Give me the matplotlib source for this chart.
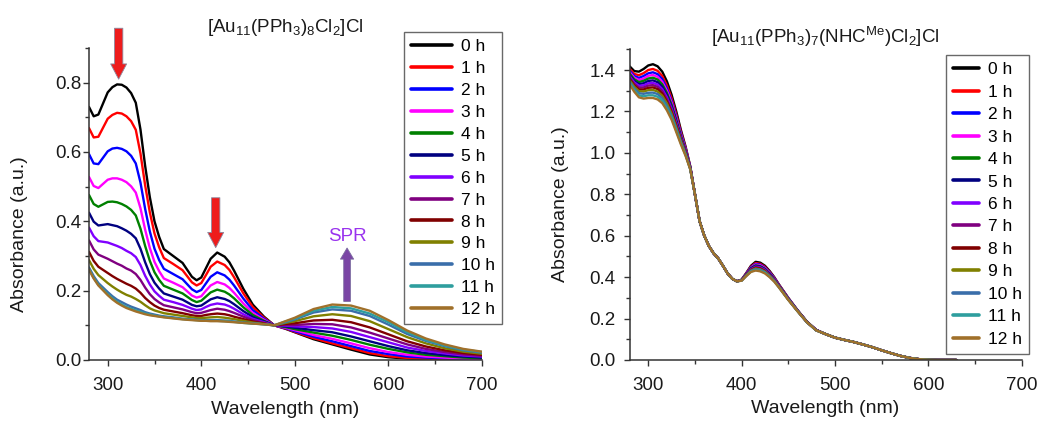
import matplotlib
matplotlib.use("Agg")
import matplotlib.pyplot as plt
from matplotlib.patches import FancyArrowPatch
from matplotlib.ticker import MultipleLocator

plt.rcParams['font.family'] = ['Liberation Sans', 'DejaVu Sans']
plt.rcParams['mathtext.fontset'] = 'custom'
plt.rcParams['mathtext.rm'] = 'Liberation Sans'
plt.rcParams['mathtext.it'] = 'Liberation Sans:italic'
plt.rcParams['mathtext.default'] = 'regular'

labels = ["0 h", "1 h", "2 h", "3 h", "4 h", "5 h", "6 h", "7 h", "8 h", "9 h", "10 h", "11 h", "12 h"]
colors = ["#000000", "#ff0000", "#0000ff", "#ff00ff", "#008000", "#000080", "#8000ff",
          "#800080", "#800000", "#808000", "#3a6eaa", "#2e9e9e", "#a0702a"]

# ---------------- Left panel: [Au11(PPh3)8Cl2]Cl ----------------
left_wl_uv = [280, 285, 290, 300, 305, 310, 315, 320, 325, 330, 335, 340, 345, 350, 355, 360,
              370, 380, 390, 395, 400, 405, 410, 417, 425, 430, 435, 445, 455, 467, 478]
left_uv = [
    [0.730, 0.703, 0.708, 0.772, 0.787, 0.795, 0.794, 0.786, 0.770, 0.742, 0.665, 0.560, 0.470, 0.400, 0.355, 0.320, 0.300, 0.280, 0.240, 0.230, 0.238, 0.265, 0.292, 0.310, 0.298, 0.282, 0.258, 0.205, 0.160, 0.125, 0.100],
    [0.669, 0.642, 0.644, 0.696, 0.707, 0.713, 0.711, 0.703, 0.689, 0.664, 0.596, 0.504, 0.426, 0.365, 0.325, 0.294, 0.277, 0.259, 0.224, 0.215, 0.222, 0.245, 0.269, 0.284, 0.274, 0.260, 0.239, 0.192, 0.153, 0.122, 0.100],
    [0.594, 0.567, 0.565, 0.602, 0.610, 0.612, 0.609, 0.602, 0.589, 0.567, 0.512, 0.436, 0.371, 0.321, 0.288, 0.263, 0.248, 0.233, 0.204, 0.196, 0.202, 0.221, 0.240, 0.253, 0.244, 0.232, 0.215, 0.177, 0.144, 0.119, 0.100],
    [0.528, 0.502, 0.496, 0.520, 0.524, 0.524, 0.520, 0.513, 0.501, 0.483, 0.438, 0.376, 0.323, 0.283, 0.256, 0.235, 0.223, 0.210, 0.186, 0.180, 0.184, 0.200, 0.215, 0.225, 0.218, 0.208, 0.194, 0.163, 0.136, 0.116, 0.100],
    [0.476, 0.450, 0.442, 0.456, 0.457, 0.455, 0.450, 0.443, 0.433, 0.417, 0.379, 0.329, 0.286, 0.253, 0.231, 0.214, 0.203, 0.192, 0.173, 0.167, 0.171, 0.183, 0.195, 0.203, 0.197, 0.189, 0.178, 0.152, 0.130, 0.113, 0.100],
    [0.425, 0.399, 0.388, 0.392, 0.389, 0.386, 0.380, 0.373, 0.364, 0.351, 0.321, 0.282, 0.248, 0.223, 0.206, 0.192, 0.183, 0.174, 0.159, 0.155, 0.157, 0.166, 0.175, 0.181, 0.176, 0.170, 0.161, 0.141, 0.124, 0.111, 0.100],
    [0.382, 0.357, 0.343, 0.339, 0.334, 0.329, 0.323, 0.315, 0.308, 0.297, 0.274, 0.243, 0.218, 0.198, 0.185, 0.174, 0.167, 0.159, 0.148, 0.144, 0.146, 0.153, 0.159, 0.163, 0.160, 0.155, 0.148, 0.132, 0.119, 0.109, 0.100],
    [0.345, 0.319, 0.304, 0.292, 0.285, 0.278, 0.272, 0.264, 0.258, 0.248, 0.231, 0.209, 0.190, 0.176, 0.166, 0.158, 0.152, 0.146, 0.138, 0.135, 0.136, 0.140, 0.144, 0.148, 0.145, 0.141, 0.136, 0.125, 0.115, 0.107, 0.100],
    [0.312, 0.286, 0.269, 0.251, 0.242, 0.234, 0.227, 0.220, 0.214, 0.206, 0.194, 0.179, 0.167, 0.157, 0.150, 0.145, 0.140, 0.135, 0.129, 0.127, 0.127, 0.130, 0.132, 0.134, 0.132, 0.129, 0.125, 0.118, 0.111, 0.105, 0.100],
    [0.288, 0.263, 0.245, 0.222, 0.212, 0.203, 0.195, 0.188, 0.183, 0.176, 0.168, 0.158, 0.149, 0.143, 0.139, 0.135, 0.131, 0.127, 0.123, 0.121, 0.121, 0.122, 0.123, 0.124, 0.122, 0.120, 0.118, 0.113, 0.108, 0.104, 0.100],
    [0.267, 0.242, 0.222, 0.196, 0.184, 0.174, 0.167, 0.160, 0.154, 0.149, 0.144, 0.138, 0.134, 0.131, 0.128, 0.126, 0.123, 0.119, 0.117, 0.116, 0.115, 0.115, 0.115, 0.115, 0.114, 0.113, 0.111, 0.108, 0.106, 0.103, 0.100],
    [0.262, 0.237, 0.217, 0.190, 0.178, 0.168, 0.160, 0.153, 0.148, 0.143, 0.139, 0.134, 0.131, 0.128, 0.126, 0.124, 0.121, 0.118, 0.116, 0.115, 0.114, 0.114, 0.113, 0.113, 0.112, 0.111, 0.110, 0.107, 0.105, 0.103, 0.100],
    [0.260, 0.235, 0.215, 0.187, 0.175, 0.165, 0.157, 0.150, 0.145, 0.140, 0.136, 0.132, 0.129, 0.127, 0.125, 0.123, 0.120, 0.117, 0.115, 0.114, 0.113, 0.113, 0.112, 0.112, 0.111, 0.110, 0.109, 0.107, 0.105, 0.103, 0.100],
]
left_wl_vis = [490, 500, 520, 540, 560, 580, 600, 620, 640, 660, 680, 700]
left_vis = [
    [0.090, 0.080, 0.060, 0.045, 0.030, 0.016, 0.008, 0.004, 0.002, 0.001, 0.000, 0.000],
    [0.091, 0.081, 0.063, 0.048, 0.034, 0.020, 0.011, 0.006, 0.004, 0.002, 0.001, 0.001],
    [0.092, 0.083, 0.067, 0.054, 0.040, 0.026, 0.017, 0.010, 0.007, 0.005, 0.003, 0.002],
    [0.093, 0.086, 0.072, 0.061, 0.048, 0.034, 0.023, 0.015, 0.010, 0.007, 0.004, 0.003],
    [0.095, 0.089, 0.079, 0.070, 0.058, 0.044, 0.032, 0.022, 0.015, 0.011, 0.007, 0.005],
    [0.097, 0.093, 0.086, 0.080, 0.068, 0.054, 0.040, 0.028, 0.020, 0.014, 0.010, 0.007],
    [0.099, 0.097, 0.095, 0.091, 0.081, 0.066, 0.051, 0.036, 0.026, 0.019, 0.013, 0.010],
    [0.101, 0.101, 0.104, 0.103, 0.094, 0.079, 0.062, 0.045, 0.032, 0.023, 0.016, 0.012],
    [0.104, 0.106, 0.114, 0.116, 0.109, 0.094, 0.074, 0.054, 0.039, 0.028, 0.020, 0.015],
    [0.107, 0.112, 0.126, 0.132, 0.127, 0.112, 0.089, 0.066, 0.048, 0.034, 0.024, 0.018],
    [0.109, 0.117, 0.137, 0.146, 0.142, 0.127, 0.102, 0.075, 0.055, 0.040, 0.028, 0.021],
    [0.111, 0.119, 0.142, 0.153, 0.149, 0.134, 0.109, 0.080, 0.058, 0.042, 0.030, 0.023],
    [0.112, 0.122, 0.147, 0.160, 0.157, 0.142, 0.115, 0.085, 0.062, 0.045, 0.032, 0.024],
]

# ---------------- Right panel: [Au11(PPh3)7(NHC^Me)Cl2]Cl ----------------
right_wl_a = [280, 285, 290, 295, 300, 305, 310, 315, 320, 325, 330, 335, 340, 345]
right_a = [
    [1.418, 1.395, 1.392, 1.405, 1.422, 1.428, 1.418, 1.392, 1.345, 1.280, 1.200, 1.110, 1.030, 0.935],
    [1.406, 1.381, 1.375, 1.385, 1.400, 1.405, 1.396, 1.371, 1.325, 1.263, 1.186, 1.100, 1.024, 0.933],
    [1.397, 1.371, 1.362, 1.371, 1.384, 1.389, 1.380, 1.356, 1.311, 1.251, 1.176, 1.093, 1.019, 0.931],
    [1.390, 1.363, 1.352, 1.359, 1.372, 1.376, 1.367, 1.343, 1.300, 1.242, 1.168, 1.088, 1.016, 0.930],
    [1.383, 1.355, 1.342, 1.348, 1.359, 1.363, 1.354, 1.331, 1.289, 1.232, 1.160, 1.082, 1.012, 0.929],
    [1.376, 1.347, 1.332, 1.336, 1.347, 1.350, 1.341, 1.319, 1.278, 1.222, 1.152, 1.076, 1.008, 0.928],
    [1.370, 1.340, 1.324, 1.326, 1.336, 1.338, 1.330, 1.308, 1.268, 1.214, 1.145, 1.071, 1.005, 0.927],
    [1.363, 1.333, 1.315, 1.316, 1.325, 1.327, 1.319, 1.298, 1.258, 1.206, 1.138, 1.067, 1.002, 0.926],
    [1.357, 1.326, 1.306, 1.306, 1.314, 1.316, 1.308, 1.287, 1.248, 1.197, 1.131, 1.062, 0.999, 0.925],
    [1.351, 1.319, 1.298, 1.296, 1.303, 1.304, 1.296, 1.276, 1.239, 1.189, 1.124, 1.057, 0.996, 0.924],
    [1.344, 1.311, 1.288, 1.285, 1.290, 1.291, 1.284, 1.264, 1.227, 1.179, 1.116, 1.051, 0.992, 0.922],
    [1.337, 1.303, 1.278, 1.273, 1.278, 1.278, 1.271, 1.252, 1.216, 1.170, 1.108, 1.046, 0.989, 0.921],
    [1.330, 1.295, 1.268, 1.262, 1.265, 1.265, 1.258, 1.240, 1.205, 1.160, 1.100, 1.040, 0.985, 0.920],
]
right_wl_b = [350, 355, 360, 365, 370, 375, 380, 385, 390, 395]
right_b = [0.800, 0.670, 0.600, 0.550, 0.515, 0.490, 0.455, 0.418, 0.392, 0.380]
right_wl_c = [400, 405, 410, 415, 420, 425, 430, 435, 440, 450, 460, 470, 480]
right_c = [
    [0.388, 0.420, 0.455, 0.474, 0.470, 0.455, 0.430, 0.400, 0.365, 0.300, 0.240, 0.185, 0.145],
    [0.387, 0.418, 0.451, 0.468, 0.464, 0.450, 0.426, 0.397, 0.363, 0.299, 0.239, 0.185, 0.145],
    [0.387, 0.416, 0.448, 0.464, 0.460, 0.446, 0.423, 0.395, 0.361, 0.298, 0.239, 0.184, 0.145],
    [0.386, 0.415, 0.445, 0.461, 0.457, 0.443, 0.420, 0.393, 0.360, 0.297, 0.238, 0.184, 0.144],
    [0.386, 0.414, 0.443, 0.457, 0.453, 0.440, 0.418, 0.391, 0.359, 0.296, 0.238, 0.184, 0.144],
    [0.386, 0.413, 0.441, 0.454, 0.450, 0.437, 0.416, 0.389, 0.358, 0.295, 0.238, 0.184, 0.144],
    [0.385, 0.412, 0.438, 0.451, 0.447, 0.435, 0.413, 0.388, 0.357, 0.294, 0.237, 0.183, 0.144],
    [0.385, 0.411, 0.436, 0.448, 0.444, 0.432, 0.411, 0.386, 0.356, 0.294, 0.237, 0.183, 0.144],
    [0.385, 0.410, 0.434, 0.445, 0.441, 0.429, 0.409, 0.385, 0.355, 0.293, 0.237, 0.183, 0.144],
    [0.384, 0.409, 0.432, 0.442, 0.438, 0.427, 0.407, 0.383, 0.354, 0.292, 0.236, 0.183, 0.143],
    [0.384, 0.407, 0.430, 0.439, 0.435, 0.424, 0.405, 0.382, 0.352, 0.292, 0.236, 0.182, 0.143],
    [0.383, 0.406, 0.427, 0.435, 0.431, 0.421, 0.402, 0.380, 0.351, 0.291, 0.235, 0.182, 0.143],
    [0.383, 0.405, 0.425, 0.432, 0.428, 0.418, 0.400, 0.378, 0.350, 0.290, 0.235, 0.182, 0.143],
]
right_wl_d = [490, 500, 510, 520, 530, 540, 550, 560, 570, 580, 590, 600, 610, 620, 630]
right_d = [0.125, 0.108, 0.097, 0.087, 0.075, 0.062, 0.047, 0.033, 0.020, 0.010, 0.004, 0.001, 0.000, 0.000, 0.000]

title_left = r"[Au$_{11}$(PPh$_{3}$)$_{8}$Cl$_{2}$]Cl"
title_right = r"[Au$_{11}$(PPh$_{3}$)$_{7}$(NHC$^{Me}$)Cl$_{2}$]Cl"

W, H = 1039, 421
fig = plt.figure(figsize=(W / 100, H / 100), dpi=100)
ax1 = fig.add_axes([89 / W, 1 - 360 / H, 393 / W, 312 / H])
ax2 = fig.add_axes([629.6 / W, 1 - 360 / H, 392 / W, 310.7 / H])

for k in range(13):
    x = left_wl_uv + left_wl_vis
    y = left_uv[k] + left_vis[k]
    ax1.plot(x, y, color=colors[k], lw=1.7, label=labels[k],
             solid_joinstyle='round', solid_capstyle='round')
    x2 = right_wl_a + right_wl_b + right_wl_c + right_wl_d
    y2 = right_a[k] + right_b + right_c[k] + right_d
    ax2.plot(x2, y2, color=colors[k], lw=1.7, label=labels[k],
             solid_joinstyle='round', solid_capstyle='round')

txt_col = '#1a1a1a'
spine_col = "#333333"
for ax in (ax1, ax2):
    ax.set_xlim(280, 700)
    ax.spines['top'].set_visible(False)
    ax.spines['right'].set_visible(False)
    for s in ('left', 'bottom'):
        ax.spines[s].set_linewidth(1.1)
        ax.spines[s].set_color(spine_col)
    ax.xaxis.set_major_locator(MultipleLocator(100))
    ax.xaxis.set_minor_locator(MultipleLocator(50))
    ax.yaxis.set_minor_locator(MultipleLocator(0.1))
    ax.tick_params(which='both', direction='out', colors=spine_col, labelcolor=txt_col, labelsize=13.5)
    ax.tick_params(which='major', length=4, width=1.0)
    ax.tick_params(which='minor', length=3, width=1.0)
    ax.tick_params(axis='x', pad=8)
    ax.set_xlabel("Wavelength (nm)", fontsize=14, color=txt_col)
    ax.set_ylabel("Absorbance (a.u.)", fontsize=14, color=txt_col)
    ax.xaxis.set_label_coords(0.5, -0.13)

ax1.set_ylim(0, 0.9)
ax1.set_yticks([0.0, 0.2, 0.4, 0.6, 0.8])
ax1.set_yticklabels(["0.0", "0.2", "0.4", "0.6", "0.8"])
ax1.tick_params(axis='y', pad=1.5)
ax1.yaxis.set_label_coords(-0.155, 0.405)

ax2.set_ylim(0, 1.5)
ax2.set_yticks([0.0, 0.2, 0.4, 0.6, 0.8, 1.0, 1.2, 1.4])
ax2.set_yticklabels(["0.0", "0.2", "0.4", "0.6", "0.8", "1.0", "1.2", "1.4"])
ax2.tick_params(axis='y', pad=6)
ax2.yaxis.set_label_coords(-0.155, 0.502)

ax1.text(0.5, 1.052, title_left, transform=ax1.transAxes, ha='center', va='baseline',
         fontsize=13.5, color=txt_col)
ax2.text(0.5, 1.021, title_right, transform=ax2.transAxes, ha='center', va='baseline',
         fontsize=13.5, color=txt_col)

leg1 = ax1.legend(loc='upper right', bbox_to_anchor=(1.051, 1.051), borderaxespad=0,
                  fontsize=12.5, handlelength=2.4, handletextpad=0.5, labelspacing=0.39,
                  frameon=True, fancybox=False, borderpad=0.4)
leg2 = ax2.legend(loc='upper right', bbox_to_anchor=(1.019, 0.981), borderaxespad=0,
                  fontsize=12.5, handlelength=1.5, handletextpad=0.5, labelspacing=0.42,
                  frameon=True, fancybox=False, borderpad=0.4)
for leg in (leg1, leg2):
    fr = leg.get_frame()
    fr.set_edgecolor('#444444')
    fr.set_linewidth(1.0)
    for line in leg.get_lines():
        line.set_linewidth(2.6)


def arrow(ax, x0, y0, x1, y1, fc, ec, hl, hw, tw):
    p = FancyArrowPatch((x0, y0), (x1, y1),
                        arrowstyle=f"simple,head_length={hl},head_width={hw},tail_width={tw}",
                        mutation_scale=10, fc=fc, ec=ec, lw=0.6, shrinkA=0, shrinkB=0,
                        clip_on=False, zorder=5)
    ax.add_patch(p)


arrow(ax1, 311.7, 0.957, 311.7, 0.81, '#ee1c1c', '#8a8aa0', 1.1, 1.15, 0.6)
arrow(ax1, 415.4, 0.468, 415.4, 0.324, '#ee1c1c', '#8a8aa0', 1.1, 1.15, 0.6)
arrow(ax1, 555.8, 0.169, 555.8, 0.323, '#7a45a5', '#7a6aa0', 0.8, 0.95, 0.48)
ax1.text(555.8, 0.357, "SPR", color='#9933ee', fontsize=13.5, ha='center', va='center')

fig.savefig("out.png", dpi=100)
